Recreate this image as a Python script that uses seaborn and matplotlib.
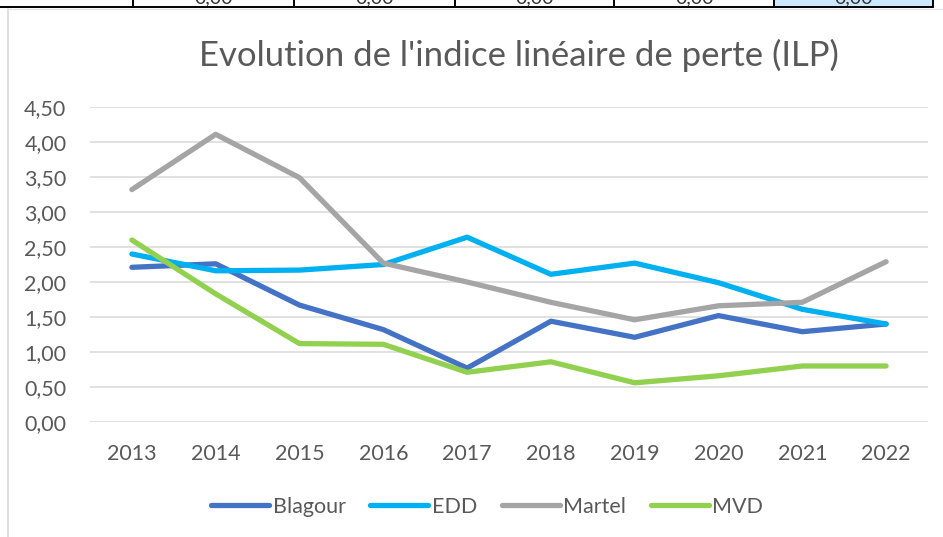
import matplotlib
matplotlib.use("Agg")
import matplotlib.pyplot as plt
from matplotlib.ticker import FuncFormatter, FixedLocator
from matplotlib.lines import Line2D
from matplotlib.patches import Rectangle
import seaborn as sns
import pandas as pd

years = [2013, 2014, 2015, 2016, 2017, 2018, 2019, 2020, 2021, 2022]
blagour = [2.21, 2.26, 1.67, 1.32, 0.77, 1.44, 1.21, 1.52, 1.29, 1.40]
edd = [2.40, 2.16, 2.17, 2.25, 2.64, 2.11, 2.27, 1.99, 1.61, 1.40]
martel = [3.32, 4.11, 3.49, 2.27, 2.00, 1.71, 1.46, 1.66, 1.71, 2.29]
mvd = [2.60, 1.83, 1.12, 1.11, 0.71, 0.86, 0.56, 0.66, 0.80, 0.80]
series_names = ["Blagour", "EDD", "Martel", "MVD"]
colors = ["#4472C4", "#00B0F0", "#A5A5A5", "#92D050"]
yticks = [0, 0.5, 1.0, 1.5, 2.0, 2.5, 3.0, 3.5, 4.0, 4.5]
title = "Evolution de l'indice linéaire de perte (ILP)"

df = pd.DataFrame({
    "year": years * 4,
    "value": blagour + edd + martel + mvd,
    "series": sum([[n] * len(years) for n in series_names], []),
})

sns.set_theme(style="white")
plt.rcParams["font.family"] = ["Lato", "DejaVu Sans"]
txt = "#595959"

W, H = 943, 537
fig = plt.figure(figsize=(W / 100, H / 100), dpi=100)
ax = fig.add_axes([90 / W, 1 - 422 / H, (928 - 90) / W, (422 - 107) / H])

sns.lineplot(data=df, x="year", y="value", hue="series", palette=colors,
             hue_order=series_names, linewidth=3.8, ax=ax, legend=False,
             solid_capstyle="round", clip_on=False, zorder=3)

ax.set_xlim(2012.5, 2022.5)
ax.set_ylim(0, 4.5)
ax.yaxis.set_major_locator(FixedLocator(yticks))
ax.yaxis.set_major_formatter(FuncFormatter(lambda v, p: f"{v:.2f}".replace(".", ",")))
ax.set_xticks(years)
ax.set_xticklabels([str(y) for y in years])
ax.grid(axis="y", color="#D9D9D9", linewidth=1.1)
ax.grid(axis="x", visible=False)
for s in ax.spines.values():
    s.set_visible(False)
ax.tick_params(axis="both", length=0, labelsize=15.5, colors=txt, pad=0)
ax.tick_params(axis="y", pad=17)
ax.tick_params(axis="x", pad=16)
ax.set_xlabel("")
ax.set_ylabel("")

fig.text(519 / W, 1 - 55 / H, title, ha="center", va="center",
         fontsize=25, color=txt)

handles = [Line2D([0], [0], color=c, linewidth=3.8, solid_capstyle="round")
           for c in colors]
fig.legend(handles, series_names, loc="center", bbox_to_anchor=(487 / W, 1 - 507 / H),
           ncol=4, frameon=False, fontsize=15.5, labelcolor=txt,
           handlelength=2.7, handletextpad=0.15, columnspacing=1.15)

# chart frame (light border) and table strip above
fig.add_artist(Line2D([8 / W, 8 / W], [0, 1 - 9 / H], color="#D9D9D9", linewidth=1.2,
                      transform=fig.transFigure))
fig.add_artist(Line2D([8 / W, 1], [1 - 9 / H, 1 - 9 / H], color="#E6E6E6", linewidth=1.0,
                      transform=fig.transFigure))
fig.add_artist(Rectangle((774 / W, 1 - 7 / H), (933 - 774) / W, 7 / H,
                         facecolor="#CCE8FF", edgecolor="none", transform=fig.transFigure))
fig.add_artist(Line2D([0, 933 / W], [1 - 7 / H, 1 - 7 / H], color="black", linewidth=1.4,
                      transform=fig.transFigure))
for xs in [133, 294, 455, 614, 774, 933]:
    fig.add_artist(Line2D([xs / W, xs / W], [1 - 7 / H, 1], color="black", linewidth=1.4,
                          transform=fig.transFigure))
for xc in [214, 375, 535, 695, 854]:
    fig.text(xc / W, 1 - 6 / H, "0,00", ha="center", va="bottom", fontsize=14, color="#333333")

fig.savefig("out.png", dpi=100, facecolor="white")
